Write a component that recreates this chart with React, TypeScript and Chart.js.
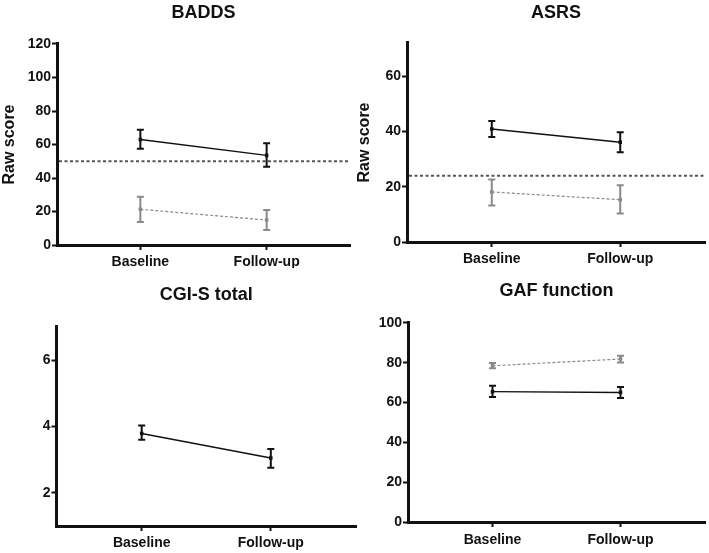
import React, { useEffect, useRef } from 'react';
import { Chart, registerables } from 'chart.js';

Chart.register(...registerables);

const categories = ['Baseline', 'Follow-up'];

// BADDS
const baddsPatientMean = [63, 53.5];
const baddsPatientLow = [57.5, 46.7];
const baddsPatientHigh = [68.8, 60.7];
const baddsControlMean = [21.3, 14.9];
const baddsControlLow = [13.7, 9];
const baddsControlHigh = [28.8, 20.9];
const baddsCutoff = 50;
const baddsTicks = [0, 20, 40, 60, 80, 100, 120];

// ASRS
const asrsPatientMean = [40.9, 36.1];
const asrsPatientLow = [38, 32.5];
const asrsPatientHigh = [43.8, 39.7];
const asrsControlMean = [18.1, 15.3];
const asrsControlLow = [13.2, 10.3];
const asrsControlHigh = [22.6, 20.5];
const asrsCutoff = 24;
const asrsTicks = [0, 20, 40, 60];

// CGI-S
const cgiPatientMean = [3.79, 3.05];
const cgiPatientLow = [3.6, 2.76];
const cgiPatientHigh = [4.03, 3.32];
const cgiTicks = [2, 4, 6];

// GAF
const gafPatientMean = [65.5, 65.1];
const gafPatientLow = [62.8, 62.3];
const gafPatientHigh = [68.5, 67.8];
const gafControlMean = [78.5, 81.9];
const gafControlLow = [77.2, 80.2];
const gafControlHigh = [79.9, 83.6];
const gafTicks = [0, 20, 40, 60, 80, 100];

const FONT = '"Liberation Sans", Arial, Helvetica, sans-serif';
const INK = '#111111';
const GREY = '#8a8a8a';

type Series = { mean: number[]; low: number[]; high: number[]; control: boolean };
type Panel = {
  title: string;
  yTitle?: string;
  yMin: number;
  yMax: number;
  yTicks: number[];
  cutoff?: number;
  series: Series[];
  box: { left: number; top: number; w: number; h: number };
  area: { left: number; right: number; top: number; bottom: number };
  titleY: number;
  xLabelPad: number;
};

const panels: Panel[] = [
  {
    title: 'BADDS', yTitle: 'Raw score', yMin: 0, yMax: 120, yTicks: baddsTicks, cutoff: baddsCutoff,
    series: [
      { mean: baddsControlMean, low: baddsControlLow, high: baddsControlHigh, control: true },
      { mean: baddsPatientMean, low: baddsPatientLow, high: baddsPatientHigh, control: false },
    ],
    box: { left: 0, top: 0, w: 354, h: 268 },
    area: { left: 57, right: 350, top: 44, bottom: 245 },
    titleY: 13,
    xLabelPad: 4,
  },
  {
    title: 'ASRS', yTitle: 'Raw score', yMin: 0, yMax: 72, yTicks: asrsTicks, cutoff: asrsCutoff,
    series: [
      { mean: asrsControlMean, low: asrsControlLow, high: asrsControlHigh, control: true },
      { mean: asrsPatientMean, low: asrsPatientLow, high: asrsPatientHigh, control: false },
    ],
    box: { left: 355, top: 0, w: 354, h: 268 },
    area: { left: 52, right: 354, top: 43, bottom: 242 },
    titleY: 13,
    xLabelPad: 4,
  },
  {
    title: 'CGI-S total', yMin: 1, yMax: 7, yTicks: cgiTicks,
    series: [
      { mean: cgiPatientMean, low: cgiPatientLow, high: cgiPatientHigh, control: false },
    ],
    box: { left: 0, top: 270, w: 360, h: 283 },
    area: { left: 56.5, right: 357, top: 57, bottom: 256 },
    titleY: 25,
    xLabelPad: 4,
  },
  {
    title: 'GAF function', yMin: 0, yMax: 100, yTicks: gafTicks,
    series: [
      { mean: gafControlMean, low: gafControlLow, high: gafControlHigh, control: true },
      { mean: gafPatientMean, low: gafPatientLow, high: gafPatientHigh, control: false },
    ],
    box: { left: 355, top: 270, w: 354, h: 283 },
    area: { left: 53, right: 352, top: 53, bottom: 252 },
    titleY: 21,
    xLabelPad: 5,
  },
];

const refLinePlugin = {
  id: 'refLine',
  beforeDatasetsDraw(chart: any, _args: any, opts: any) {
    if (opts == null || opts.value == null) return;
    const { ctx, chartArea } = chart;
    const y = chart.scales.y.getPixelForValue(opts.value);
    ctx.save();
    ctx.strokeStyle = '#555555';
    ctx.lineWidth = 2;
    ctx.setLineDash([3, 2.5]);
    ctx.beginPath();
    ctx.moveTo(chartArea.left + 2, y);
    ctx.lineTo(chartArea.right, y);
    ctx.stroke();
    ctx.restore();
  },
};

const errorBarPlugin = {
  id: 'errorBars',
  afterDatasetsDraw(chart: any) {
    const { ctx } = chart;
    const xs = chart.scales.x;
    const ys = chart.scales.y;
    chart.data.datasets.forEach((ds: any) => {
      const low: number[] = ds.errLow;
      const high: number[] = ds.errHigh;
      if (!low || !high) return;
      ctx.save();
      ctx.strokeStyle = ds.borderColor;
      ctx.lineWidth = 2;
      ctx.setLineDash([]);
      ds.data.forEach((pt: any, i: number) => {
        const x = xs.getPixelForValue(pt.x);
        const y1 = ys.getPixelForValue(low[i]);
        const y2 = ys.getPixelForValue(high[i]);
        ctx.beginPath();
        ctx.moveTo(x, y1);
        ctx.lineTo(x, y2);
        ctx.moveTo(x - 3.5, y1);
        ctx.lineTo(x + 3.5, y1);
        ctx.moveTo(x - 3.5, y2);
        ctx.lineTo(x + 3.5, y2);
        ctx.stroke();
      });
      ctx.restore();
    });
  },
};

function makeConfig(p: Panel): any {
  const datasets = p.series.map((s) => ({
    data: s.mean.map((v, i) => ({ x: i, y: v })),
    errLow: s.low,
    errHigh: s.high,
    borderColor: s.control ? GREY : INK,
    backgroundColor: s.control ? GREY : INK,
    borderWidth: s.control ? 1.2 : 1.4,
    borderDash: s.control ? [3, 2] : [],
    pointStyle: 'rect',
    pointRadius: 2.5,
    pointBorderWidth: 0,
    tension: 0,
    fill: false,
  }));
  const titlePadTop = p.titleY - 10.8;
  const titlePadBottom = p.area.top - titlePadTop - 21.6;
  const tickFont = { family: FONT, size: 14, weight: 'bold' as const };
  return {
    type: 'line',
    data: { datasets },
    options: {
      animation: false,
      responsive: false,
      events: [],
      layout: { padding: { left: 0, right: p.box.w - p.area.right, top: 0, bottom: 0 } },
      plugins: {
        legend: { display: false },
        tooltip: { enabled: false },
        title: {
          display: true,
          text: p.title,
          fullSize: false,
          color: INK,
          font: { family: FONT, size: 18, weight: 'bold' },
          padding: { top: titlePadTop, bottom: titlePadBottom },
        },
        refLine: { value: p.cutoff ?? null },
      },
      scales: {
        x: {
          type: 'linear',
          min: -0.66,
          max: 1.66,
          afterBuildTicks: (s: any) => {
            s.ticks = categories.map((_, i) => ({ value: i }));
          },
          afterFit: (s: any) => {
            s.height = p.box.h - p.area.bottom;
          },
          ticks: {
            callback: (v: any) => categories[v] ?? '',
            color: INK,
            font: tickFont,
            padding: p.xLabelPad,
            autoSkip: false,
            maxRotation: 0,
          },
          grid: { drawOnChartArea: false, drawTicks: true, tickLength: 5, tickWidth: 2, tickColor: INK },
          border: { display: true, color: INK, width: 3 },
        },
        y: {
          type: 'linear',
          min: p.yMin,
          max: p.yMax,
          afterBuildTicks: (s: any) => {
            s.ticks = p.yTicks.map((v) => ({ value: v }));
          },
          afterFit: (s: any) => {
            s.width = p.area.left;
          },
          ticks: { color: INK, font: tickFont, padding: 1 },
          grid: { drawOnChartArea: false, drawTicks: true, tickLength: 5, tickWidth: 2, tickColor: INK },
          border: { display: true, color: INK, width: 3 },
          title: {
            display: !!p.yTitle,
            text: p.yTitle ?? '',
            color: INK,
            font: { family: FONT, size: 16, weight: 'bold' },
            padding: 0,
          },
        },
      },
    },
    plugins: [refLinePlugin, errorBarPlugin],
  };
}

function PanelChart({ p }: { p: Panel }) {
  const ref = useRef<HTMLCanvasElement>(null);
  useEffect(() => {
    if (!ref.current) return;
    const chart = new Chart(ref.current, makeConfig(p));
    return () => chart.destroy();
  }, [p]);
  return (
    <div style={{ position: 'absolute', left: p.box.left, top: p.box.top, width: p.box.w, height: p.box.h }}>
      <canvas ref={ref} width={p.box.w} height={p.box.h} style={{ display: 'block', width: p.box.w, height: p.box.h }} />
    </div>
  );
}

export default function App() {
  return (
    <div style={{ position: 'fixed', left: 0, top: 0, width: 709, height: 553, background: '#ffffff', overflow: 'hidden' }}>
      {panels.map((p) => (
        <PanelChart key={p.title} p={p} />
      ))}
    </div>
  );
}
